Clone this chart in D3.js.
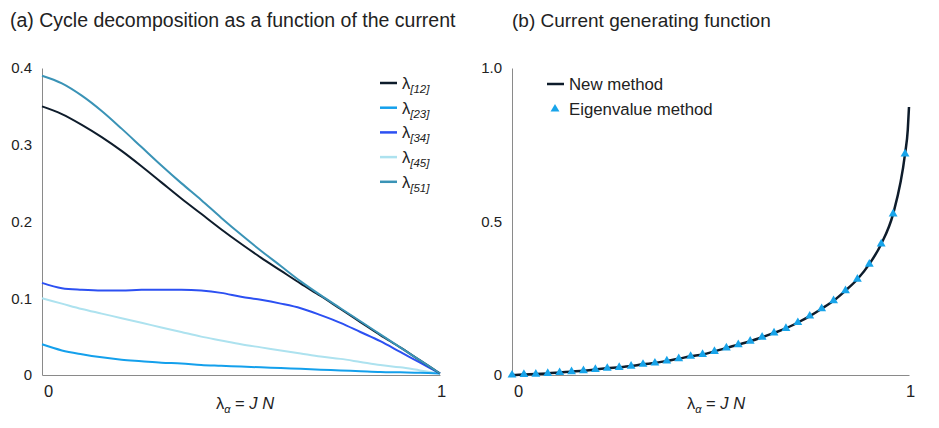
<!DOCTYPE html>
<html>
<head>
<meta charset="utf-8">
<script src="https://cdn.jsdelivr.net/npm/d3@7/dist/d3.min.js"></script>
<style>
  body { margin: 0; background: #fff; }
  svg { font-family: "Liberation Sans", Arial, sans-serif; }
</style>
</head>
<body>
<svg></svg>
<script>
// panel (a): cycle decomposition
const xa = [0, 0.05, 0.1, 0.15, 0.2, 0.25, 0.3, 0.35, 0.4, 0.45, 0.5,
            0.55, 0.6, 0.65, 0.7, 0.75, 0.8, 0.85, 0.9, 0.95, 1]
const lam12 = [0.350, 0.340, 0.326, 0.310, 0.292, 0.272, 0.251, 0.230, 0.210, 0.190, 0.171,
               0.153, 0.136, 0.119, 0.103, 0.086, 0.069, 0.052, 0.036, 0.019, 0.002]
const lam23 = [0.040, 0.032, 0.027, 0.023, 0.020, 0.018, 0.016, 0.015, 0.013, 0.012, 0.011,
               0.010, 0.009, 0.008, 0.007, 0.006, 0.005, 0.004, 0.0035, 0.003, 0.002]
const lam34 = [0.120, 0.113, 0.111, 0.110, 0.110, 0.111, 0.111, 0.111, 0.110, 0.107, 0.102,
               0.098, 0.093, 0.087, 0.078, 0.068, 0.056, 0.044, 0.030, 0.016, 0.002]
const lam45 = [0.100, 0.093, 0.086, 0.080, 0.074, 0.068, 0.062, 0.056, 0.050, 0.045, 0.040,
               0.036, 0.032, 0.028, 0.024, 0.021, 0.017, 0.013, 0.010, 0.006, 0.002]
const lam51 = [0.390, 0.380, 0.364, 0.344, 0.321, 0.297, 0.273, 0.250, 0.228, 0.205, 0.183,
               0.162, 0.142, 0.122, 0.104, 0.087, 0.070, 0.053, 0.036, 0.019, 0.002]
const seriesNames = ["12", "23", "34", "45", "51"]
const seriesColors = ["#0e1c2b", "#14a0ec", "#2c50f2", "#ade2ef", "#3a93b6"]
const yTicksA = [0, 0.1, 0.2, 0.3, 0.4]

// panel (b): current generating function
const xb = [0, 0.03, 0.06, 0.09, 0.12, 0.15, 0.18, 0.21, 0.24, 0.27, 0.3, 0.33,
            0.36, 0.39, 0.42, 0.45, 0.48, 0.51, 0.54, 0.57, 0.6, 0.63, 0.66,
            0.69, 0.72, 0.75, 0.78, 0.81, 0.84, 0.87, 0.9, 0.93, 0.96, 0.99]
const eigen = [0, 0.002, 0.003, 0.005, 0.008, 0.011, 0.014, 0.018, 0.022, 0.025, 0.029, 0.035,
               0.039, 0.046, 0.053, 0.061, 0.067, 0.077, 0.088, 0.099, 0.110, 0.123, 0.137,
               0.152, 0.171, 0.192, 0.216, 0.242, 0.275, 0.312, 0.361, 0.427, 0.525, 0.720]
const xNew = xb.concat([0.997, 1])
const newMethod = eigen.concat([0.80, 0.873])
const yTicksB = [0, 0.5, 1.0]

const width = 939, height = 428

const svg = d3.select("svg")
  .attr("width", width)
  .attr("height", height)

const axisColor = "#8a8a8a"

function drawAxes(x, y, yTicks, yFmt) {
  const gx = svg.append("g")
    .attr("transform", `translate(0, ${y(0)})`)
    .call(d3.axisBottom(x).tickValues([0, 1]).tickSize(0).tickPadding(10).tickFormat(d3.format("d")))
  gx.select(".domain").attr("stroke", axisColor)
  gx.selectAll("text").attr("font-size", 16.5).attr("fill", "#222")
    .attr("dx", d => d === 0 ? 6 : 1)

  const gy = svg.append("g")
    .attr("transform", `translate(${x(0)}, 0)`)
    .call(d3.axisLeft(y).tickValues(yTicks).tickSize(0).tickPadding(10).tickFormat(yFmt))
  gy.select(".domain").attr("stroke", axisColor)
  gy.selectAll("text").attr("font-size", 15).attr("fill", "#222")
}

function axisTitle(cx) {
  const t = svg.append("text")
    .attr("x", cx).attr("y", 409)
    .attr("text-anchor", "middle")
    .attr("font-size", 16.5).attr("fill", "#222")
  t.append("tspan").text("λ")
  t.append("tspan").attr("font-style", "italic").attr("font-size", 11).attr("dy", 4).text("α")
  t.append("tspan").attr("dy", -4).text(" = ")
  t.append("tspan").attr("font-style", "italic").text("J N")
}

// ---- panel (a)
const xA = d3.scaleLinear().domain([0, 1]).range([42, 440])
const yA = d3.scaleLinear().domain([0, 0.4]).range([375, 68])

drawAxes(xA, yA, yTicksA, d => d === 0 ? "0" : d3.format(".1f")(d))
axisTitle(245)

svg.append("text").attr("x", 10).attr("y", 27)
  .attr("font-size", 19.5).attr("fill", "#222")
  .text("(a) Cycle decomposition as a function of the current")

const lineA = d3.line()
  .x(d => xA(d[0]))
  .y(d => yA(d[1]))
  .curve(d3.curveMonotoneX)

const allA = [lam12, lam23, lam34, lam45, lam51]
// draw light ones first so the dark ones sit on top
const order = [3, 1, 2, 0, 4]
order.forEach(i => {
  svg.append("path")
    .datum(xa.map((v, k) => [v, allA[i][k]]))
    .attr("fill", "none")
    .attr("stroke", seriesColors[i])
    .attr("stroke-width", 2)
    .attr("d", lineA)
})

const legA = svg.append("g").attr("transform", "translate(380, 83)")
seriesNames.forEach((n, i) => {
  const row = legA.append("g").attr("transform", `translate(0, ${i * 24.7})`)
  row.append("line").attr("x1", 0).attr("x2", 17).attr("y1", 0).attr("y2", 0)
    .attr("stroke", seriesColors[i]).attr("stroke-width", 2.5)
  const t = row.append("text").attr("x", 22).attr("y", 6)
    .attr("font-size", 16.5).attr("fill", "#222")
  t.append("tspan").text("λ")
  t.append("tspan").attr("font-style", "italic").attr("font-size", 11.5).attr("dy", 4).text(`[${n}]`)
})

// ---- panel (b)
const xB = d3.scaleLinear().domain([0, 1]).range([512, 909])
const yB = d3.scaleLinear().domain([0, 1]).range([375, 68])

drawAxes(xB, yB, yTicksB, d => d === 0 ? "0" : d3.format(".1f")(d))
axisTitle(716)

svg.append("text").attr("x", 512).attr("y", 27)
  .attr("font-size", 19).attr("fill", "#222")
  .text("(b) Current generating function")

svg.append("path")
  .datum(xNew.map((v, k) => [v, newMethod[k]]))
  .attr("fill", "none")
  .attr("stroke", "#0e1c2b")
  .attr("stroke-width", 2.5)
  .attr("d", d3.line().x(d => xB(d[0])).y(d => yB(d[1])).curve(d3.curveMonotoneX))

const tri = d3.symbol().type(d3.symbolTriangle).size(34)
svg.append("g").selectAll("path")
  .data(xb.map((v, k) => [v, eigen[k]]))
  .join("path")
    .attr("transform", d => `translate(${xB(d[0])}, ${yB(d[1])})`)
    .attr("d", tri)
    .attr("fill", "#18a4ea")

const legB = svg.append("g").attr("transform", "translate(547, 84)")
legB.append("line").attr("x1", 0).attr("x2", 17).attr("y1", 0).attr("y2", 0)
  .attr("stroke", "#0e1c2b").attr("stroke-width", 2.5)
legB.append("text").attr("x", 22).attr("y", 6).attr("font-size", 16.8).attr("fill", "#222").text("New method")
legB.append("path").attr("transform", "translate(8, 25)").attr("d", tri).attr("fill", "#18a4ea")
legB.append("text").attr("x", 22).attr("y", 31).attr("font-size", 16.8).attr("fill", "#222").text("Eigenvalue method")
</script>
</body>
</html>
